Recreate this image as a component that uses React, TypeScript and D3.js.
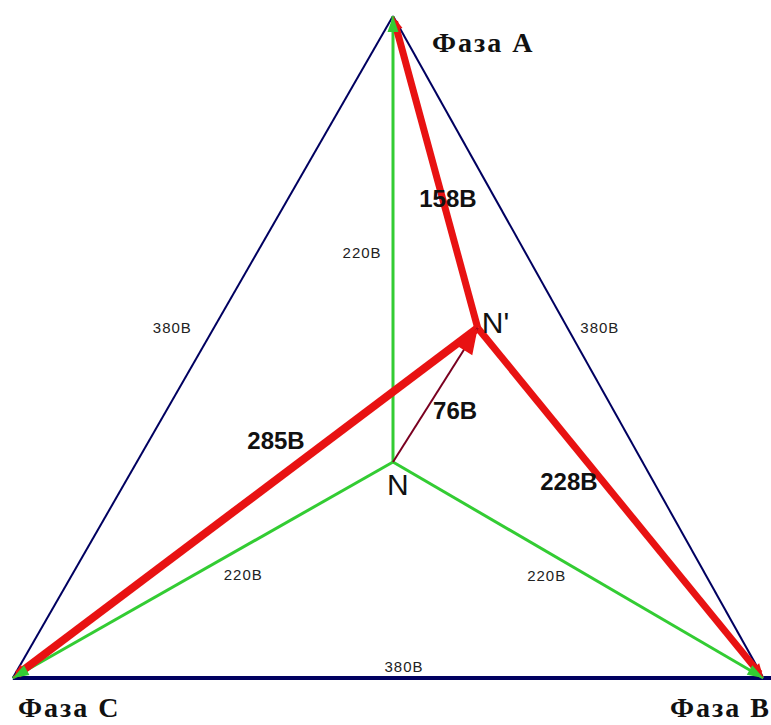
import React, { useRef, useEffect } from 'react';
import * as d3 from 'd3';

// points of the diagram, in volts (N = origin)
const pointNames = ['A', 'B', 'C', 'N', "N'"];
const pointX = [0, 188, -193, 0, 43];
const pointY = [223, -108, -108, 0, 67];

// phase voltages (green), load voltages (red), neutral shift (dark red)
const phaseVectors = [['N', 'A'], ['N', 'B'], ['N', 'C']];
const loadVectors = [["N'", 'A'], ["N'", 'B'], ["N'", 'C']];
const shiftVector = ['N', "N'"];
const lineEdges = [['A', 'B'], ['A', 'C']];

// labels: text, x, y (volts), kind
const labelText = ['380В', '380В', '380В', '220В', '220В', '220В', '158В', '76В', '285В', '228В', 'N', "N'"];
const labelX = [-112, 105, 5.6, -15.7, -76, 78, 27.9, 31.5, -59.4, 89.3, 2.5, 52];
const labelY = [67.5, 67.5, -102, 105, -56, -56.5, 132, 26, 11, -9.5, -11, 70];
const labelKind = ['s', 's', 's', 's', 's', 's', 'b', 'b', 'b', 'b', 'n', 'n'];

const phaseText = ['Фаза A', 'Фаза C', 'Фаза B'];
const phaseX = [19.8, -190.4, 191.9];
const phaseY = [205, -127.5, -127.5];
const phaseAnchor = ['start', 'start', 'end'];

export default function App() {
  const svgRef = useRef<SVGSVGElement>(null);

  useEffect(() => {
    if (!svgRef.current) return;
    const width = 771;
    const height = 725;
    const svg = d3.select(svgRef.current).attr('width', width).attr('height', height);
    svg.selectAll('*').remove();

    const xScale = d3.scaleLinear().domain([-200, 200]).range([-1, 787]);
    const yScale = d3.scaleLinear().domain([-110, 225]).range([682, 12]);

    const pt = (name: string) => {
      const i = pointNames.indexOf(name);
      return [xScale(pointX[i]), yScale(pointY[i])];
    };

    //arrow head drawn as a triangle with its tip at q, pointing away from p
    const arrowHead = (p: number[], q: number[], len: number, wid: number, color: string) => {
      const a = Math.atan2(q[1] - p[1], q[0] - p[0]);
      const bx = q[0] - len * Math.cos(a), by = q[1] - len * Math.sin(a);
      const nx = -Math.sin(a) * wid / 2, ny = Math.cos(a) * wid / 2;
      svg.append('path')
        .attr('d', `M${q[0]},${q[1]} L${bx + nx},${by + ny} L${bx - nx},${by - ny} Z`)
        .attr('fill', color);
    };

    //triangle
    lineEdges.forEach(([a, b]) => {
      const p = pt(a), q = pt(b);
      svg.append('line')
        .attr('x1', p[0]).attr('y1', p[1]).attr('x2', q[0]).attr('y2', q[1])
        .attr('stroke', '#000060').attr('stroke-width', 2);
    });
    const c = pt('C');
    svg.append('line')
      .attr('x1', c[0]).attr('y1', c[1]).attr('x2', width).attr('y2', c[1])
      .attr('stroke', '#000060').attr('stroke-width', 4);

    //phase vectors
    phaseVectors.forEach(([a, b]) => {
      const p = pt(a), q = pt(b);
      svg.append('line')
        .attr('x1', p[0]).attr('y1', p[1]).attr('x2', q[0]).attr('y2', q[1])
        .attr('stroke', '#33cc33').attr('stroke-width', 3);
    });

    //load vectors
    loadVectors.forEach(([a, b], i) => {
      const p = pt(a), q = pt(b);
      const ang = Math.atan2(q[1] - p[1], q[0] - p[0]);
      const ex = q[0] - 6 * Math.cos(ang), ey = q[1] - 6 * Math.sin(ang);
      svg.append('line')
        .attr('x1', p[0]).attr('y1', p[1]).attr('x2', ex).attr('y2', ey)
        .attr('stroke', '#e81212').attr('stroke-width', i === 2 ? 8 : 7);
      arrowHead(p, q, 14, 12, '#e81212');
    });

    //green arrow heads on top
    phaseVectors.forEach(([a, b]) => {
      const p = pt(a), q = pt(b);
      arrowHead(p, q, 16, 11, '#33cc33');
    });

    //neutral shift
    const s0 = pt(shiftVector[0]), s1 = pt(shiftVector[1]);
    svg.append('line')
      .attr('x1', s0[0]).attr('y1', s0[1]).attr('x2', s1[0]).attr('y2', s1[1])
      .attr('stroke', '#7a0020').attr('stroke-width', 2);
    arrowHead(s0, s1, 26, 20, '#e81212');

    //labels
    labelText.forEach((t, i) => {
      const k = labelKind[i];
      svg.append('text')
        .attr('x', xScale(labelX[i]))
        .attr('y', yScale(labelY[i]))
        .attr('text-anchor', 'middle')
        .attr('dominant-baseline', 'central')
        .attr('font-family', 'Liberation Sans, Arial, sans-serif')
        .attr('font-size', k === 's' ? 15 : k === 'b' ? 24 : 30)
        .attr('font-weight', k === 'b' ? 'bold' : 'normal')
        .attr('letter-spacing', k === 's' ? 1 : 0)
        .attr('fill', k === 's' ? '#222' : '#111')
        .text(t);
    });

    phaseText.forEach((t, i) => {
      svg.append('text')
        .attr('x', xScale(phaseX[i]))
        .attr('y', yScale(phaseY[i]))
        .attr('text-anchor', phaseAnchor[i])
        .attr('font-family', 'Liberation Serif, Times New Roman, serif')
        .attr('font-size', 28)
        .attr('font-weight', 'bold')
        .attr('letter-spacing', 2)
        .attr('fill', '#111')
        .text(t);
    });
  }, []);

  return (
    <div style={{ position: 'absolute', left: 0, top: 0, background: '#fff' }}>
      <svg ref={svgRef} />
    </div>
  );
}
